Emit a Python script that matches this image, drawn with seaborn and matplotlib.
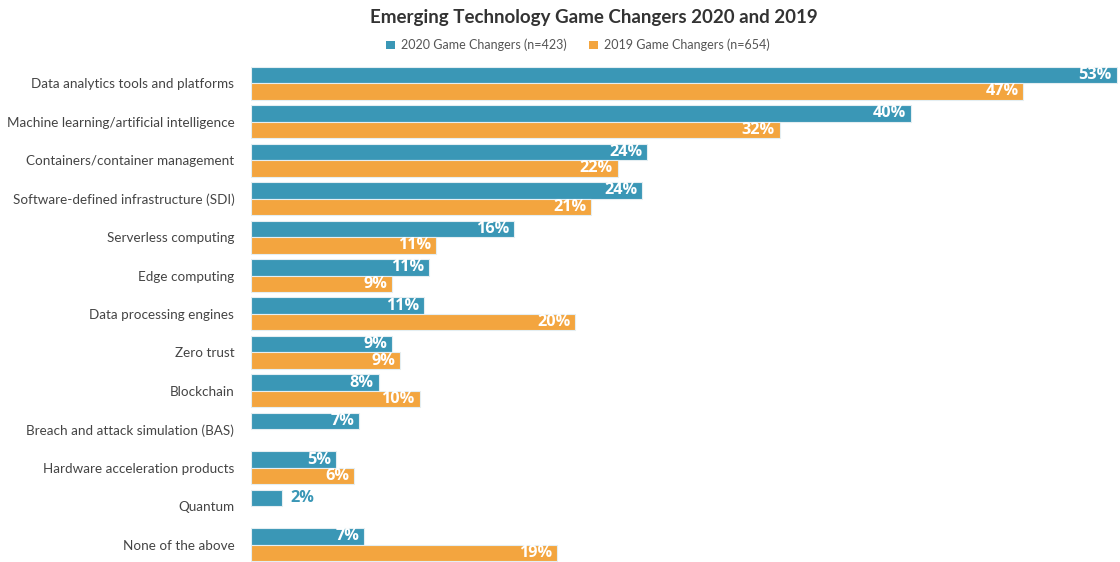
import pandas as pd
import matplotlib.pyplot as plt
import seaborn as sns
from matplotlib.patches import Patch

# Values (percent of respondents)
technologies = [
    "Data analytics tools and platforms",
    "Machine learning/artificial intelligence",
    "Containers/container management",
    "Software-defined infrastructure (SDI)",
    "Serverless computing",
    "Edge computing",
    "Data processing engines",
    "Zero trust",
    "Blockchain",
    "Breach and attack simulation (BAS)",
    "Hardware acceleration products",
    "Quantum",
    "None of the above",
]
pct_2020 = [52.9, 40.3, 24.2, 23.9, 16.1, 10.9, 10.6, 8.6, 7.8, 6.6, 5.2, 1.9, 6.9]
pct_2019 = [47.2, 32.3, 22.4, 20.8, 11.3, 8.6, 19.8, 9.1, 10.3, None, 6.3, None, 18.7]

series_names = ["2020 Game Changers (n=423)", "2019 Game Changers (n=654)"]
colors = ["#3A97B6", "#F3A53F"]

# long format, leaving out techs not asked in 2019
rows = []
for tech, a, b in zip(technologies, pct_2020, pct_2019):
    rows.append((tech, series_names[0], a))
    if b is not None:
        rows.append((tech, series_names[1], b))
df = pd.DataFrame(rows, columns=["tech", "series", "pct"])

sns.set_style("white")
plt.rcParams['font.family'] = ['Lato', 'DejaVu Sans']

fig = plt.figure(figsize=(11.2, 5.62), dpi=100)
ax = fig.add_axes([251 / 1120, 0.0, 1 - 251 / 1120, 1 - 64 / 562])

sns.barplot(data=df, y="tech", x="pct", hue="series", order=technologies,
            hue_order=series_names, palette=colors, saturation=1, orient="h", width=0.86,
            edgecolor="#E4EEF2", linewidth=0.8, legend=False, ax=ax)

ax.set_xlim(0, 53.1)
ax.set_ylim(12.45, -0.5)
ax.set_xlabel("")
ax.set_ylabel("")
ax.set_xticks([])
ax.tick_params(axis="y", length=0, pad=12, labelsize=9.7, labelcolor="#444444")
sns.despine(ax=ax, left=True, bottom=True)

# value labels: white inside the bar end, outside when the bar is too short
label_font = ["Open Sans", "DejaVu Sans"]
for cont, col in zip(ax.containers, colors):
    for bar in cont:
        w = bar.get_width()
        yc = bar.get_y() + bar.get_height() / 2
        if w < 3:
            ax.annotate(f"{w:.0f}%", (w, yc), xytext=(6, 0), textcoords="offset points",
                        ha="left", va="center", color=col, fontsize=11.7, fontweight="bold",
                        family=label_font)
        else:
            ax.annotate(f"{w:.0f}%", (w, yc), xytext=(-3.5, 0), textcoords="offset points",
                        ha="right", va="center", color="white", fontsize=11.7, fontweight="bold",
                        family=label_font)

fig.text(594 / 1120, 1 - 18 / 562, "Emerging Technology Game Changers 2020 and 2019",
         ha="center", va="center", fontsize=13.5, fontweight="bold", color="#333333")

handles = [Patch(facecolor=c, edgecolor="none") for c in colors]
fig.legend(handles, series_names, loc="center", bbox_to_anchor=(578 / 1120, 1 - 45 / 562),
           ncol=2, frameon=False, fontsize=9, handlelength=0.7, handleheight=0.7,
           handletextpad=0.5, columnspacing=1.8, labelcolor="#555555")

plt.savefig("out.png", dpi=100)
